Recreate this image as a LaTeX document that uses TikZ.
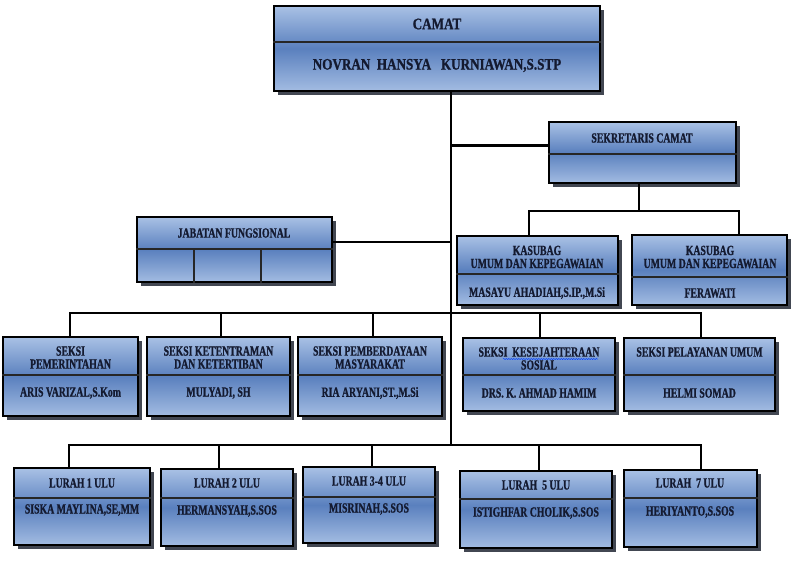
\documentclass[tikz,border=0pt]{standalone}
\usepackage{fontspec}
\newfontfamily\orgfont{Liberation Serif}[FakeStretch=0.70,FakeBold=0.9]
\newfontfamily\camfont{Liberation Serif}[FakeStretch=0.82,FakeBold=0.9]
\usetikzlibrary{shadows,calc,decorations.pathmorphing}
\definecolor{boxlight}{HTML}{A9C1E5}
\definecolor{boxlightb}{HTML}{A3BCE2}
\definecolor{boxdark}{HTML}{5A80BE}
\definecolor{shadowcol}{HTML}{2E3440}
\definecolor{textcol}{HTML}{141A30}
\tikzset{
  orgbox/.style={draw=black, line width=1.6pt, top color=boxlight, bottom color=boxlightb, middle color=boxdark,
    drop shadow={shadow xshift=3.5pt, shadow yshift=-3.5pt, fill=shadowcol, opacity=0.9}, inner sep=0pt},
  divline/.style={line width=1.1pt, draw=black!85},
  conn/.style={line width=2.4pt, draw=black},
  lbl/.style={font=\orgfont\bfseries\fontsize{14}{13}\selectfont, text=textcol, align=center, inner sep=0pt},
  camlbl/.style={font=\camfont\bfseries\fontsize{16}{18}\selectfont, text=textcol, align=center, inner sep=0pt},
}
\newcommand\orgrect[6]{%
  \node[orgbox, minimum width={(#4-#2)*1pt}, minimum height={(#5-#3)*1pt}] (#1) at ({(#2+#4)/2},{(#3+#5)/2}) {};
  \draw[divline] (#1.west |- 0,#6) -- (#1.east |- 0,#6);
}
\begin{document}
\begin{tikzpicture}[x=1pt,y=-1pt]
\useasboundingbox[fill=white] (0,0) rectangle (800,573);

% boxes
\orgrect{camat}{274}{6}{600}{91}{42}
\orgrect{sek}{549}{122}{736}{183}{154}
\orgrect{jab}{137}{217}{332}{282}{249}
\draw[divline] (194,249) -- (jab.south -| 194,0);
\draw[divline] (261,249) -- (jab.south -| 261,0);
\orgrect{k1}{457}{236}{618}{305}{274}
\orgrect{k2}{632}{235}{787}{305}{277}
\orgrect{s1}{3}{337}{138}{416}{375}
\orgrect{s2}{147}{337}{290}{416}{375}
\orgrect{s3}{298}{337}{442}{416}{375}
\orgrect{s4}{463}{338}{615}{411}{375}
\orgrect{s5}{624}{338}{775}{411}{375}
\orgrect{l1}{14}{468}{150}{545}{498}
\orgrect{l2}{161}{469}{293}{546}{498}
\orgrect{l3}{303}{467}{435}{543}{497}
\orgrect{l4}{460}{471}{612}{548}{499}
\orgrect{l5}{624}{470}{757}{547}{498}

% labels
\node[camlbl] (camat-t) at (437,24) {CAMAT};
\node[camlbl] (camat-b) at (437,65.5) {NOVRAN\ \ HANSYA\ \ \ KURNIAWAN,S.STP};
\node[lbl] (sek-t) at (642,138) {SEKRETARIS CAMAT};
\node[lbl] (jab-t) at (234,233) {JABATAN FUNGSIONAL};
\node[lbl] (k1-t) at (537,257) {KASUBAG\\UMUM DAN KEPEGAWAIAN};
\node[lbl] (k1-b) at (537,293) {MASAYU AHADIAH,S.IP.,M.Si};
\node[lbl] (k2-t) at (710,257) {KASUBAG\\UMUM DAN KEPEGAWAIAN};
\node[lbl] (k2-b) at (710,293) {FERAWATI};
\node[lbl] (s1-t) at (70.5,357.5) {SEKSI\\PEMERINTAHAN};
\node[lbl] (s1-b) at (70.5,393) {ARIS VARIZAL,S.Kom};
\node[lbl] (s2-t) at (218.5,357.5) {SEKSI KETENTRAMAN\\DAN KETERTIBAN};
\node[lbl] (s2-b) at (218.5,393) {MULYADI, SH};
\node[lbl] (s3-t) at (370,357.5) {SEKSI PEMBERDAYAAN\\MASYARAKAT};
\node[lbl] (s3-b) at (370,393) {RIA ARYANI,ST.,M.Si};
\node[lbl] (s4-t) at (539,358.5) {SEKSI\ \ KESEJAHTERAAN\\SOSIAL};
\node[lbl] (s4-b) at (539,393) {DRS. K. AHMAD HAMIM};
\node[lbl] (s5-t) at (699.5,352) {SEKSI PELAYANAN UMUM};
\node[lbl] (s5-b) at (699.5,393) {HELMI SOMAD};
\node[lbl] (l1-t) at (82,483) {LURAH 1 ULU};
\node[lbl] (l1-b) at (82,510) {SISKA MAYLINA,SE,MM};
\node[lbl] (l2-t) at (227,483) {LURAH 2 ULU};
\node[lbl] (l2-b) at (227,511) {HERMANSYAH,S.SOS};
\node[lbl] (l3-t) at (369,481) {LURAH 3-4 ULU};
\node[lbl] (l3-b) at (369,509) {MISRINAH,S.SOS};
\node[lbl] (l4-t) at (536,485) {LURAH\ \ 5 ULU};
\node[lbl] (l4-b) at (536,513) {ISTIGHFAR CHOLIK,S.SOS};
\node[lbl] (l5-t) at (690,483) {LURAH\ \ 7 ULU};
\node[lbl] (l5-b) at (690,512) {HERIYANTO,S.SOS};

% spell-check underline
\draw[blue!75!cyan, line width=0.5pt, decorate, decoration={snake, amplitude=0.6pt, segment length=2.5pt}] (503,359) -- (598,359);

% connector coordinates
\coordinate (trunk) at (451,445);
\coordinate (sekj) at ($(sek.north west)!0.39!(sek.south west)$);
\coordinate (jabj) at ($(jab.north east)!0.385!(jab.south east)$);
\coordinate (kd1) at (529,211);
\coordinate (kd2) at (739,211);
\coordinate (sd1) at (70,313);
\coordinate (sd2) at (221,313);
\coordinate (sd3) at (373,313);
\coordinate (sd4) at (540,313);
\coordinate (sd5) at (701,313);
\coordinate (ld1) at (69,445);
\coordinate (ld2) at (219,445);
\coordinate (ld3) at (372,445);
\coordinate (ld4) at (539,445);
\coordinate (ld5) at (701,445);

% connectors
\draw[conn] (camat.south -| trunk) -- (trunk);
\draw[conn] (trunk |- sekj) -- (sekj);
\draw[conn] (jabj) -- (jabj -| trunk);
\draw[conn] (sek.south -| 639,0) -- (639,211);
\draw[conn] (kd1 |- k1.north) -- (kd1) -- (kd2) -- (kd2 |- k2.north);
\draw[conn] (sd1 |- s1.north) -- (sd1) -- (sd5) -- (sd5 |- s5.north);
\draw[conn] (sd2) -- (sd2 |- s2.north);
\draw[conn] (sd3) -- (sd3 |- s3.north);
\draw[conn] (sd4) -- (sd4 |- s4.north);
\draw[conn] (ld1 |- l1.north) -- (ld1) -- (ld5) -- (ld5 |- l5.north);
\draw[conn] (ld2) -- (ld2 |- l2.north);
\draw[conn] (ld3) -- (ld3 |- l3.north);
\draw[conn] (ld4) -- (ld4 |- l4.north);
\end{tikzpicture}
\end{document}
